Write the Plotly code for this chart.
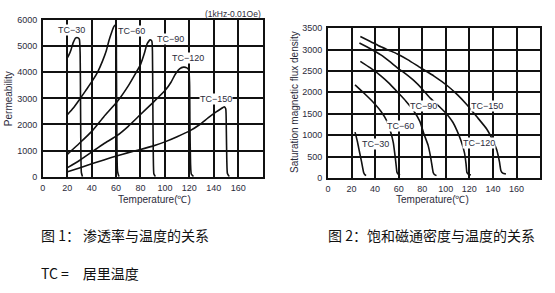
import plotly.graph_objects as go

W, H = 555, 293

# ---- Figure 1: permeability vs temperature ----
perm_labels = ["TC−30", "TC−60", "TC−90", "TC−120", "TC−150"]
perm_T = [
    [20, 21.5, 23, 25, 27, 29, 30, 30.6, 30.9, 31.2, 31.6, 32.5],
    [20.3, 25, 29.8, 35, 40.7, 45, 48.8, 52, 54.2, 56.5, 58.3, 59.4, 60, 60.3, 60.6, 61.2, 62.4],
    [20.3, 30, 40.7, 50, 61, 70, 76, 80, 83, 85.5, 88, 89.3, 89.8, 90.1, 90.5, 91, 92.2],
    [20.3, 30, 40.7, 50, 61, 70, 80, 90, 100.3, 105, 108.5, 112, 115.3, 118, 119.5, 120.2, 120.5, 121, 121.6, 123.4],
    [20.3, 30, 40.7, 50, 61, 70, 80, 90, 100, 110, 120.7, 128, 135.6, 142, 146, 148.6, 149.8, 150.3, 150.7, 151.2, 152.7],
]
perm_P = [
    [4543, 4680, 4850, 5150, 5320, 5320, 5260, 4700, 3000, 900, 150, 0],
    [2383, 2630, 2938, 3290, 3679, 4020, 4420, 4830, 5222, 5550, 5760, 5815, 5750, 4500, 2000, 200, 0],
    [864, 1280, 1765, 2300, 2877, 3480, 3960, 4296, 4700, 5100, 5247, 5200, 4800, 3000, 800, 100, 0],
    [346, 620, 963, 1260, 1580, 1930, 2383, 2830, 3309, 3620, 3926, 4130, 4198, 4170, 4100, 3600, 2000, 500, 100, 0],
    [185, 330, 500, 640, 800, 920, 1040, 1170, 1333, 1530, 1765, 1980, 2259, 2480, 2605, 2679, 2600, 1800, 600, 120, 0],
]
perm_lab_T = [23.9, 72.7, 104.4, 118.8, 141.6]
perm_lab_P = [5630, 5593, 5259, 4531, 2963]

# ---- Figure 2: saturation flux density vs temperature ----
sat_labels = ["TC−30", "TC−60", "TC−90", "TC−120", "TC−150"]
sat_T = [
    [23.0, 25, 26.7, 28.5, 30.3, 31.2, 32.3],
    [23.0, 30.9, 38, 44.9, 50, 53.3, 55.5, 57.0, 58.0, 58.6, 59.6, 61.2],
    [27.5, 36, 44.9, 52, 58.9, 66, 73.0, 78, 81.4, 85, 87.0, 88.5, 89.3, 90.3, 92.1],
    [26.7, 36, 44.9, 52, 58.9, 66, 73.0, 80, 87.0, 94, 101.1, 106, 109.5, 113, 115.9, 117.2, 117.9, 119, 121.3],
    [27.5, 36, 44.9, 52, 58.9, 68, 78.6, 90, 101.1, 110, 117.9, 126, 134.7, 139.5, 143.2, 145.5, 146.8, 148.3, 151.0],
]
sat_B = [
    [1069, 850, 617, 380, 128, 80, 53],
    [2175, 1972, 1780, 1558, 1330, 1069, 820, 504, 260, 128, 90, 68],
    [2725, 2570, 2386, 2210, 2010, 1800, 1558, 1320, 1031, 760, 504, 250, 128, 80, 53],
    [3154, 3020, 2875, 2730, 2574, 2430, 2273, 2080, 1859, 1680, 1483, 1300, 1106, 860, 580, 320, 128, 90, 68],
    [3304, 3190, 3064, 2980, 2898, 2760, 2574, 2380, 2160, 1940, 1709, 1440, 1144, 900, 655, 380, 166, 110, 90],
]
sat_lab_T = [40.7, 61.8, 80.8, 128.0, 134.7]
sat_lab_B = [790, 1212, 1679, 805, 1679]

x_ticks = [0, 20, 40, 60, 80, 100, 120, 140, 160]
perm_ticks = [0, 1000, 2000, 3000, 4000, 5000, 6000]
sat_ticks = [0, 500, 1000, 1500, 2000, 2500, 3000, 3500]

TXT = "#2b2b3b"
FONT = "Liberation Sans, Arial, sans-serif"
CJK = "Noto Sans CJK SC"

fig = go.Figure()
for T, P in zip(perm_T, perm_P):
    fig.add_trace(go.Scatter(x=T, y=P, mode="lines", xaxis="x", yaxis="y",
                             line=dict(color="#111", width=1.6, shape="spline", smoothing=0.5),
                             showlegend=False, hoverinfo="skip"))
for T, B in zip(sat_T, sat_B):
    fig.add_trace(go.Scatter(x=T, y=B, mode="lines", xaxis="x2", yaxis="y2",
                             line=dict(color="#111", width=1.6, shape="spline", smoothing=0.5),
                             showlegend=False, hoverinfo="skip"))

ann = []
for t, tx, ty in zip(perm_labels, perm_lab_T, perm_lab_P):
    ann.append(dict(x=tx, y=ty, xref="x", yref="y", text=t, showarrow=False,
                    font=dict(size=9, color=TXT, family=FONT), bgcolor="white", borderpad=0))
for t, tx, ty in zip(sat_labels, sat_lab_T, sat_lab_B):
    ann.append(dict(x=tx, y=ty, xref="x2", yref="y2", text=t, showarrow=False,
                    font=dict(size=9, color=TXT, family=FONT), bgcolor="white", borderpad=0))

ann.append(dict(x=261 / W, y=1 - 9.5 / H, xref="paper", yref="paper", text="(1kHz-0.01Oe)",
                showarrow=False, xanchor="right", yanchor="middle",
                font=dict(size=8.5, color=TXT, family=FONT)))
ann.append(dict(x=5.5 / W, y=1 - 97 / H, xref="paper", yref="paper", text="Permeability",
                showarrow=False, textangle=-90, xanchor="center", yanchor="middle",
                font=dict(size=10, color=TXT, family=FONT)))
ann.append(dict(x=293 / W, y=1 - 100 / H, xref="paper", yref="paper",
                text="Saturation magnetic flux density",
                showarrow=False, textangle=-90, xanchor="center", yanchor="middle",
                font=dict(size=10, color=TXT, family=FONT)))
ann.append(dict(x=152 / W, y=1 - 201 / H, xref="paper", yref="paper", text="Temperature(℃)",
                showarrow=False, xanchor="center", yanchor="middle",
                font=dict(size=10, color=TXT, family=FONT)))
ann.append(dict(x=432 / W, y=1 - 201 / H, xref="paper", yref="paper", text="Temperature(℃)",
                showarrow=False, xanchor="center", yanchor="middle",
                font=dict(size=10, color=TXT, family=FONT)))
ann.append(dict(x=36 / W, y=1 - 238 / H, xref="paper", yref="paper", text="图 1： 渗透率与温度的关系",
                showarrow=False, xanchor="left", yanchor="middle",
                font=dict(size=14, color="#111", family=CJK)))
ann.append(dict(x=325 / W, y=1 - 238 / H, xref="paper", yref="paper", text="图 2：饱和磁通密度与温度的关系",
                showarrow=False, xanchor="left", yanchor="middle",
                font=dict(size=14, color="#111", family=CJK)))
ann.append(dict(x=36 / W, y=1 - 277 / H, xref="paper", yref="paper", text="TC =\u3000居里温度",
                showarrow=False, xanchor="left", yanchor="middle",
                font=dict(size=14, color="#111", family=CJK)))

axis_common = dict(showgrid=True, gridcolor="#111", gridwidth=1.5, showline=True, linecolor="#111",
                   linewidth=1.5, mirror=True, zeroline=False, ticks="outside", ticklen=2,
                   tickcolor="rgba(0,0,0,0)", tickfont=dict(size=9, color=TXT, family=FONT))

fig.update_layout(
    width=W, height=H, margin=dict(l=0, r=0, t=0, b=0),
    paper_bgcolor="white", plot_bgcolor="white",
    xaxis=dict(domain=[40 / W, 261 / W], range=[0, 180], tickvals=x_ticks, anchor="y", **axis_common),
    yaxis=dict(domain=[1 - 177.7 / H, 1 - 15.7 / H], range=[0, 6000], tickvals=perm_ticks, anchor="x", **axis_common),
    xaxis2=dict(domain=[326.7 / W, 540 / W], range=[0, 180], tickvals=x_ticks, anchor="y2", **axis_common),
    yaxis2=dict(domain=[1 - 179 / H, 1 - 24 / H], range=[0, 3500], tickvals=sat_ticks, anchor="x2", **axis_common),
    annotations=ann,
)
fig.write_html("out.html")
